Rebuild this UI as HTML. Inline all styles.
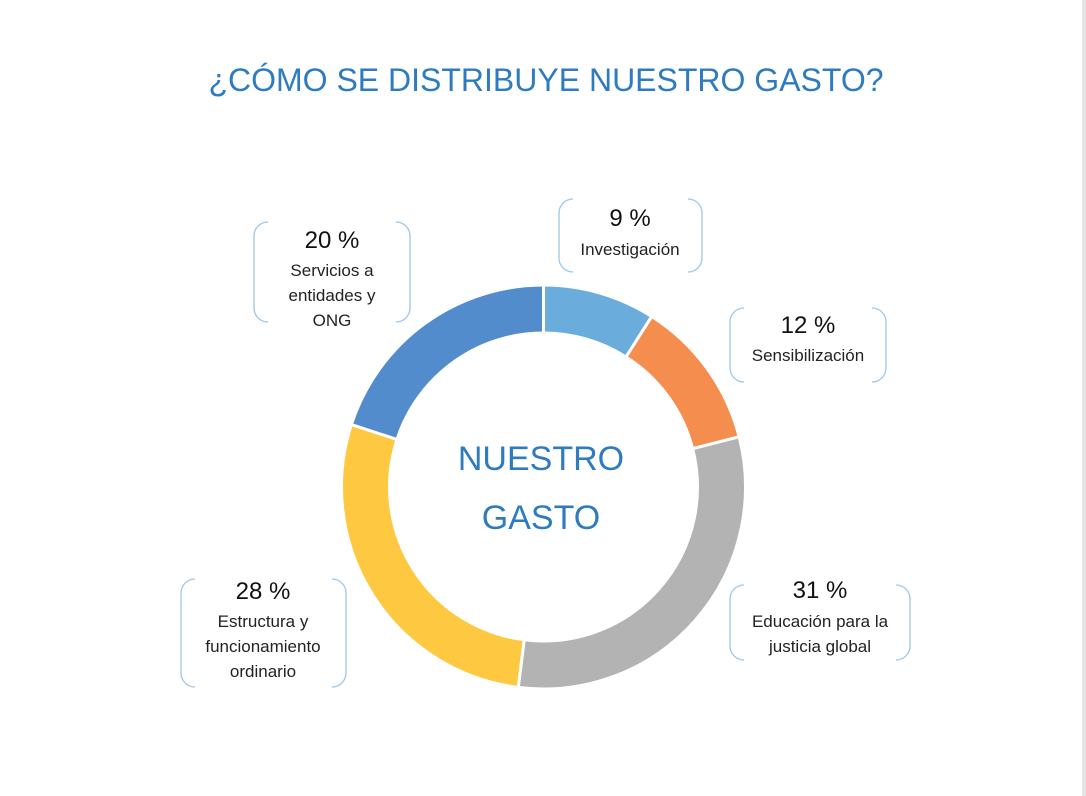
<!DOCTYPE html>
<html><head><meta charset="utf-8"><style>
body{margin:0;background:#fff;}
svg{display:block;font-family:"Liberation Sans",sans-serif;}
</style></head><body>
<svg id="chart" width="1086" height="796" viewBox="0 0 1086 796">
<rect x="1082" y="0" width="4" height="796" fill="#e4e4e4"/>
<text x="546" y="91" text-anchor="middle" font-size="32" fill="#2e7bbf">¿CÓMO SE DISTRIBUYE NUESTRO GASTO?</text>
<g id="slices"></g>
<text x="541" y="470" text-anchor="middle" font-size="34" fill="#2e7bbf">NUESTRO</text>
<text x="541" y="529" text-anchor="middle" font-size="34" fill="#2e7bbf">GASTO</text>
<g id="callouts"></g>
</svg>
<script>
const categories = ["Investigación","Sensibilización","Educación para la justicia global","Estructura y funcionamiento ordinario","Servicios a entidades y ONG"];
const values = [9, 12, 31, 28, 20];
const valueLabels = ["9 %","12 %","31 %","28 %","20 %"];
const colors = ["#6aacdb","#f58d4f","#b3b3b3","#fec841","#538ccc"];
const labelLines = [["Investigación"],["Sensibilización"],["Educación para la","justicia global"],["Estructura y","funcionamiento","ordinario"],["Servicios a","entidades y","ONG"]];
const NS="http://www.w3.org/2000/svg";
const cx=543.5, cy=487, R=202, r=154;
const total=values.reduce((a,b)=>a+b,0);
function pt(rad,a){return [cx+rad*Math.sin(a), cy-rad*Math.cos(a)];}
const g=document.getElementById('slices');
let acc=0;
values.forEach((v,i)=>{
  const a0=acc/total*2*Math.PI, a1=(acc+v)/total*2*Math.PI; acc+=v;
  const large=(a1-a0)>Math.PI?1:0;
  const [x0,y0]=pt(R,a0),[x1,y1]=pt(R,a1),[x2,y2]=pt(r,a1),[x3,y3]=pt(r,a0);
  const p=document.createElementNS(NS,'path');
  p.setAttribute('d',`M${x0},${y0}A${R},${R} 0 ${large} 1 ${x1},${y1}L${x2},${y2}A${r},${r} 0 ${large} 0 ${x3},${y3}Z`);
  p.setAttribute('fill',colors[i]);p.setAttribute('stroke','#fff');p.setAttribute('stroke-width','3');
  
  
  g.appendChild(p);
});
// callout layout boxes: [x1,x2,y1,y2,centerX,valueY,firstLineY]
const boxes=[[559,702,199,272,630,226,255],[730,886,308,382,808,333,361],[730,910,585,660,820,598,627],[181,346,579,687,263,599,627],[254,410,222,322,332,248,276]];
const cg=document.getElementById('callouts');
boxes.forEach((b,i)=>{
  const [x1,x2,y1,y2,mx,vy,ly]=b, rr=14;
  const br=document.createElementNS(NS,'path');
  br.setAttribute('d',`M${x1+rr},${y1}A${rr},${rr} 0 0 0 ${x1},${y1+rr}L${x1},${y2-rr}A${rr},${rr} 0 0 0 ${x1+rr},${y2} M${x2-rr},${y1}A${rr},${rr} 0 0 1 ${x2},${y1+rr}L${x2},${y2-rr}A${rr},${rr} 0 0 1 ${x2-rr},${y2}`);
  br.setAttribute('fill','none');br.setAttribute('stroke','#9cc8e8');br.setAttribute('stroke-width','1.3');
  
  
  cg.appendChild(br);
  const t=document.createElementNS(NS,'text');
  t.setAttribute('x',mx);t.setAttribute('y',vy);t.setAttribute('text-anchor','middle');t.setAttribute('font-size','24');t.setAttribute('fill','#111');
  t.textContent=valueLabels[i];
  
  
  cg.appendChild(t);
  labelLines[i].forEach((ln,j)=>{
    const s=document.createElementNS(NS,'text');
    s.setAttribute('x',mx);s.setAttribute('y',ly+j*25);s.setAttribute('text-anchor','middle');s.setAttribute('font-size','17');s.setAttribute('fill','#222');
    s.textContent=ln;
    
    
    cg.appendChild(s);
  });
});
</script>
</body></html>
